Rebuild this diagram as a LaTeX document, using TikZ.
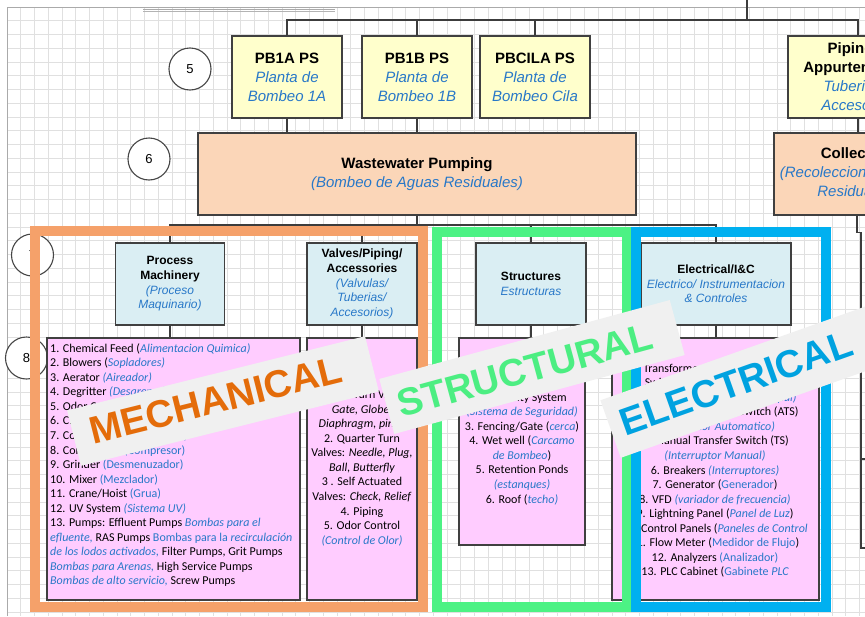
\documentclass[tikz,border=0pt]{standalone}
\usepackage{fontspec}
\setmainfont{Liberation Sans}
\newfontfamily\listfont{Carlito}
\usetikzlibrary{calc}

\definecolor{gridc}{RGB}{224,224,224}
\definecolor{edgec}{RGB}{170,170,170}
\definecolor{connc}{RGB}{60,60,60}
\definecolor{boxline}{RGB}{64,64,64}
\definecolor{circc}{RGB}{70,70,70}
\definecolor{yelbox}{RGB}{255,255,204}
\definecolor{peach}{RGB}{251,214,184}
\definecolor{ltblue}{RGB}{218,238,243}
\definecolor{pinkbox}{RGB}{255,204,255}
\definecolor{tblue}{RGB}{40,120,200}
\definecolor{mechc}{RGB}{245,161,106}
\definecolor{strc}{RGB}{76,242,132}
\definecolor{elecc}{RGB}{0,176,240}
\definecolor{mechtxt}{RGB}{228,108,10}
\definecolor{strtxt}{RGB}{76,238,130}
\definecolor{electxt}{RGB}{0,162,224}
\definecolor{bannerc}{RGB}{240,240,240}

\newcommand{\bluei}[1]{{\color{tblue}\itshape #1}}
\newcommand{\blueu}[1]{{\color{tblue}#1}}

\begin{document}
\begin{tikzpicture}[x=1pt,y=-1pt,
  gridline/.style={draw=gridc, line width=0.8pt},
  conn/.style={draw=connc, line width=1.1pt},
  boxbase/.style={draw=boxline, line width=1.2pt, align=center, inner sep=0pt},
  box5/.style={boxbase, fill=yelbox, minimum width=110, minimum height=82, font=\fontsize{15}{19}\selectfont},
  box6/.style={boxbase, fill=peach, minimum height=82, font=\fontsize{15}{19}\selectfont},
  box7/.style={boxbase, fill=ltblue, minimum height=82, font=\fontsize{12}{14.6}\selectfont},
  box8/.style={boxbase, fill=pinkbox},
  listtext/.style={inner sep=0pt, font=\listfont\fontsize{12}{14.55}\selectfont},
  numcircle/.style={circle, draw=circc, line width=1.1pt, fill=white, minimum size=42, inner sep=0pt, font=\fontsize{13}{15}\selectfont},
  frame/.style={line width=10pt},
  banner/.style={fill=bannerc, inner sep=0pt},
  bannertext/.style={inner sep=0pt, font=\bfseries\fontsize{38.5}{39}\selectfont}
]
\useasboundingbox (0,0) rectangle (865,616);
\begin{scope}
\clip (0,0) rectangle (865,616);
\fill[white] (0,0) rectangle (865,616);

% background grid
\foreach \i in {0,...,63} \draw[gridline] ({7+13.75*\i},7) -- ({7+13.75*\i},616);
\foreach \j in {0,...,45} \draw[gridline] (7,{7+13.75*\j}) -- (865,{7+13.75*\j});
\draw[edgec, line width=1pt] (7,616) -- (7,7) -- (865,7);
\draw[edgec, line width=0.8pt] (143,9) -- (335,9);
\draw[gridc!80!black, line width=0.6pt] (143,11.5) -- (335,11.5);

% level numbers
\node[numcircle] (n5) at (190,69) {5};
\node[numcircle] (n6) at (149,159) {6};
\node[numcircle] (n7) at (32.5,255) {7};
\node[numcircle] (n8) at (26.5,358) {8};

% level 5: pump stations
\node[box5] (pb1a) at (287,77) {\textbf{PB1A PS}\\\bluei{Planta de}\\\bluei{Bombeo 1A}};
\node[box5] (pb1b) at (417,77) {\textbf{PB1B PS}\\\bluei{Planta de}\\\bluei{Bombeo 1B}};
\node[box5] (pbcila) at (535,77) {\textbf{PBCILA PS}\\\bluei{Planta de}\\\bluei{Bombeo Cila}};
\node[box5, minimum width=140] (pip) at (858,77) {\textbf{Piping \&}\\\textbf{Appurtenances}\\\bluei{Tuberias y}\\\bluei{Accesorios}};

% level 6
\node[box6, minimum width=438] (ww) at (417,174) {\textbf{Wastewater Pumping}\\\bluei{(Bombeo de Aguas Residuales)}};
\node[box6, minimum width=166] (col) at (857,174) {\textbf{Collection}\\\bluei{(Recoleccion de Aguas}\\\bluei{Residuales)}};

% level 7: disciplines
\node[box7, minimum width=109] (pm) at (170,284) {\textbf{Process}\\\textbf{Machinery}\\\bluei{(Proceso}\\\bluei{Maquinario)}};
\node[box7, minimum width=110] (vp) at (362,284) {\textbf{Valves/Piping/}\\\textbf{Accessories}\\\bluei{(Valvulas/}\\\bluei{Tuberias/}\\\bluei{Accesorios)}};
\node[box7, minimum width=110] (st) at (531,284) {\textbf{Structures}\\\bluei{Estructuras}};
\node[box7, minimum width=150] (el) at (716,284) {\textbf{Electrical/I\&C}\\\bluei{Electrico/ Instrumentacion}\\\bluei{\& Controles}};

% level 8: item lists
\node[box8, minimum width=253, minimum height=262] (pmbox) at (173.5,469) {};
\node[box8, minimum width=110, minimum height=262] (vpbox) at (362,469) {};
\node[box8, minimum width=126, minimum height=207] (stbox) at (522,441.5) {};
\node[box8, minimum width=207, minimum height=262] (elbox) at (715.5,469) {};

% connectors
\coordinate (bus5) at (0,20);
\coordinate (bus7) at (0,225);
\draw[conn] (747,0) -- (747,20);
\draw[conn] (pb1a.north) -- (pb1a.north |- bus5) -- (pip.north |- bus5) -- (pip.north);
\draw[conn] (pb1b.north) -- (pb1b.north |- bus5);
\draw[conn] (pbcila.north) -- (pbcila.north |- bus5);
\draw[conn] (pb1a.south) -- (pb1a.south |- ww.north);
\draw[conn] (pb1b.south) -- (pb1b.south |- ww.north);
\draw[conn] (pip.south) -- (pip.south |- col.north);
\draw[conn] (ww.south) -- (ww.south |- bus7);
\draw[conn] (pm.north) -- (pm.north |- bus7) -- (el.north |- bus7) -- (el.north);
\draw[conn] (vp.north) -- (vp.north |- bus7);
\draw[conn] (st.north) -- (st.north |- bus7);
\draw[conn] (pm.south) -- (pm.south |- pmbox.north);
\draw[conn] (vp.south) -- (vp.south |- vpbox.north);
\draw[conn] (st.south) -- (st.south |- stbox.north);
\draw[conn] (el.south) -- (el.south |- elbox.north);
\coordinate (colrun) at (861,548);
\draw[conn] (col.south) -- ++(0,17) -| (colrun) -- ++(6,0);
\draw[conn] (861,459) -- (867,459);

% list texts
\node[listtext, anchor=north west, align=left] (pmlist) at (50,341.8) {\strut 1. Chemical Feed (\bluei{Alimentacion Quimica)}\\
2. Blowers (\bluei{Sopladores)}\\
3. Aerator \bluei{(Aireador)}\\
4. Degritter \bluei{(Desarenador)}\\
5. Odor Control \bluei{(Control de Olor)}\\
6. Clarifier \bluei{(Clarificador)}\\
7. Conveyor \bluei{(Transportador)}\\
8. Compressor \blueu{(Compresor)}\\
9. Grinder \blueu{(Desmenuzador)}\\
10. Mixer \blueu{(Mezclador)}\\
11. Crane/Hoist \blueu{(Grua)}\\
12. UV System \bluei{(Sistema UV)}\\
13. Pumps: Effluent Pumps \bluei{Bombas para el}\\
\bluei{efluente,} RAS Pumps \blueu{Bombas para la} \bluei{recirculación}\\
\bluei{de los lodos activados,} Filter Pumps, Grit Pumps\\
\bluei{Bombas para Arenas,} High Service Pumps\\
\bluei{Bombas de alto servicio,} Screw Pumps};

\node[listtext, anchor=north, align=center] (vplist) at (362,388.3) {\strut 1. Multi Turn Valves:\\
\itshape Gate, Globe,\\
\itshape Diaphragm, pinch\\
2.  Quarter Turn\\
Valves: \textit{Needle, Plug,}\\
\itshape Ball, Butterfly\\
3 . Self Actuated\\
Valves: \textit{Check, Relief}\\
4. Piping\\
5. Odor Control\\
\bluei{(Control de Olor)}};

\node[listtext, anchor=north, align=center] (stlist) at (522,361.7) {\strut 1. Foundation\\
\bluei{(Cimentacion)}\\
2. Security System\\
\bluei{(Sistema de Seguridad)}\\
3. Fencing/Gate (\bluei{cerca})\\
4. Wet well (\bluei{Carcamo}\\
\bluei{de Bombeo})\\
5. Retention Ponds\\
\bluei{(estanques)}\\
6. Roof (\bluei{techo)}};

\node[listtext, anchor=north, align=center] (ellist) at (715,361.8) {\strut 1. Transformers (\blueu{Transformadores})\\
2. Switchgear (\blueu{Tablero de Control})\\
\bluei{(Tablero de Distribucion Principal)}\\
4. Automatic Transfer Switch (ATS)\\
\bluei{(Interruptor Automatico)}\\
5. Manual Transfer Switch (TS)\\
\bluei{(Interruptor Manual)}\\
6. Breakers \bluei{(Interruptores)}\\
7. Generator (\blueu{Generador})\\
8. VFD \bluei{(variador de frecuencia)}\\
9. Lightning Panel (\bluei{Panel de Luz})\\
10. Control Panels (\bluei{Paneles de Control}\\
11. Flow Meter (\blueu{Medidor de Flujo})\\
12. Analyzers \blueu{(Analizador)}\\
13. PLC Cabinet (\blueu{Gabinete} \bluei{PLC}};

% discipline frames
\draw[frame, mechc] (35,231) rectangle (423,607);
\draw[frame, strc] (437,232) rectangle (627,607);
\draw[frame, elecc] (636,232) rectangle (826,607);

% discipline banners
\node[banner, rotate=14, minimum width=307, minimum height=57] (mechban) at (223,401) {};
\node[bannertext, rotate=14, text=mechtxt] (mechlbl) at (216,400) {MECHANICAL};
\node[banner, rotate=15.2, minimum width=301, minimum height=57] (strban) at (532,367) {};
\node[bannertext, rotate=15.2, text=strtxt] (strlbl) at (525,370) {STRUCTURAL};
\node[banner, rotate=19.5, minimum width=300, minimum height=61] (elban) at (752,379) {};
\node[bannertext, rotate=19.5, text=electxt] (ellbl) at (736,383) {ELECTRICAL};
\end{scope}
\end{tikzpicture}
\end{document}
